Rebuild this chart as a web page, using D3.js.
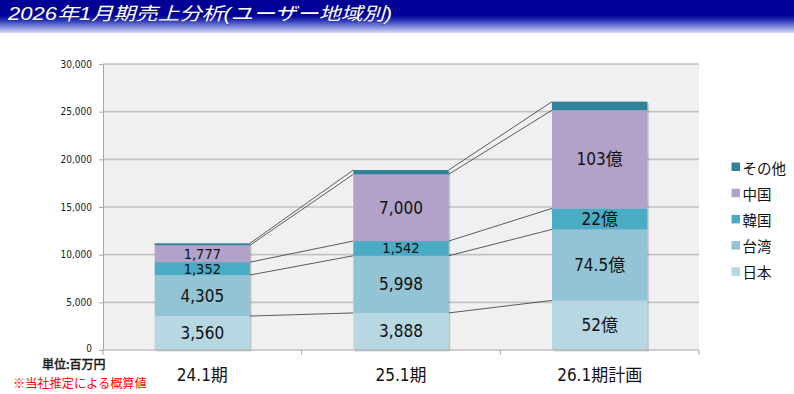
<!DOCTYPE html>
<html><head><meta charset="utf-8">
<script src="https://cdn.jsdelivr.net/npm/d3@7"></script>
<style>
html,body{margin:0;padding:0;background:#fff;}
svg{display:block;}
</style></head>
<body>
<svg id="chart" width="794" height="394"></svg>
<script>
// ---- data ----
const titleText = "2026年1月期売上分析(ユーザー地域別)";
const categories = ["24.1期", "25.1期", "26.1期計画"];
const seriesNames = ["日本", "台湾", "韓国", "中国", "その他"];
const japan  = [3560, 3888, 5200];
const taiwan = [4305, 5998, 7450];
const korea  = [1352, 1542, 2200];
const china  = [1777, 7000, 10300];
const other  = [200, 450, 900];
const japanLabels  = ["3,560", "3,888", "52億"];
const taiwanLabels = ["4,305", "5,998", "74.5億"];
const koreaLabels  = ["1,352", "1,542", "22億"];
const chinaLabels  = ["1,777", "7,000", "103億"];
const otherLabels  = ["", "", ""];
const yTicks = [0, 5000, 10000, 15000, 20000, 25000, 30000];
const unitText = "単位:百万円";
const noteText = "※当社推定による概算値";
const colors = ["#b7d7e3", "#93c4d6", "#4aabc5", "#b2a1c8", "#31839a"];

const seriesValues = [japan, taiwan, korea, china, other];
const seriesLabels = [japanLabels, taiwanLabels, koreaLabels, chinaLabels, otherLabels];

const svg = d3.select("#chart");
const defs = svg.append("defs");

// ---- title banner ----
const g1 = defs.append("linearGradient").attr("id","bannerGrad").attr("x1",0).attr("y1",0).attr("x2",0).attr("y2",1);
g1.append("stop").attr("offset","0%").attr("stop-color","#000096");
g1.append("stop").attr("offset","47%").attr("stop-color","#000098");
g1.append("stop").attr("offset","62%").attr("stop-color","#2a36b8");
g1.append("stop").attr("offset","100%").attr("stop-color","#d4dcfa");
svg.append("rect").attr("x",0).attr("y",0).attr("width",794).attr("height",33).attr("fill","url(#bannerGrad)");
svg.append("text")
  .attr("x", 8).attr("y", 20)
  .attr("font-family","'Liberation Sans','Noto Sans CJK JP',sans-serif")
  .attr("font-size", 18).attr("font-style","italic")
  .attr("fill","#ffffff")
  .attr("textLength", 384).attr("lengthAdjust","spacingAndGlyphs")
  .style("paint-order","stroke").attr("stroke","#1a1a60").attr("stroke-width",0.5)
  .text(titleText);

// ---- scales ----
const plotL = 103, plotR = 699, plotT = 64, plotB = 350;
const x = d3.scaleBand().domain(categories).range([plotL, plotR]).paddingInner(0.52).paddingOuter(0.26);
const y = d3.scaleLinear().domain([0, 30000]).range([plotB, plotT]);

// plot background
svg.append("rect").attr("x",plotL).attr("y",plotT).attr("width",plotR-plotL).attr("height",plotB-plotT).attr("fill","#f0f0f0");

// grid
svg.append("g").selectAll("line").data(yTicks.filter(d=>d>0)).join("line")
  .attr("x1", plotL).attr("x2", plotR)
  .attr("y1", d=>y(d)).attr("y2", d=>y(d))
  .attr("stroke","#c3c3c3").attr("stroke-width",1.6);

// y axis
const yAxis = svg.append("g").attr("transform",`translate(${plotL},0)`)
  .call(d3.axisLeft(y).tickValues(yTicks).tickFormat(d3.format(",")).tickSize(4).tickSizeOuter(0).tickPadding(7));
yAxis.select(".domain").attr("stroke","#a6a6a6");
yAxis.selectAll(".tick line").attr("stroke","#a6a6a6");
yAxis.selectAll("text").attr("font-family","'DejaVu Sans Condensed','DejaVu Sans',sans-serif").attr("font-size",10).attr("fill","#1a1a1a");
yAxis.selectAll(".tick").filter(d=>d===0).select("text").attr("dy","0.1em");

// stack
const table = categories.map((c,i)=>{
  const o = {cat:c};
  seriesNames.forEach((s,k)=>o[s]=seriesValues[k][i]);
  return o;
});
const stacked = d3.stack().keys(seriesNames)(table);

// connector lines
const conn = svg.append("g");
stacked.forEach(layer=>{
  for(let i=0;i<categories.length-1;i++){
    conn.append("line")
      .attr("x1", x(categories[i]) + x.bandwidth())
      .attr("y1", y(layer[i][1]))
      .attr("x2", x(categories[i+1]))
      .attr("y2", y(layer[i+1][1]))
      .attr("stroke","#4a4a4a").attr("stroke-width",0.9);
  }
});

// bar shadows
const totals = categories.map((c,i)=>d3.sum(seriesValues,v=>v[i]));
svg.append("g").selectAll("rect").data(categories).join("rect")
  .attr("x", d=>x(d)+1.5).attr("y", (d,i)=>y(totals[i])+1.5)
  .attr("width", x.bandwidth()).attr("height", (d,i)=>y(0)-y(totals[i]))
  .attr("fill","#000").attr("opacity",0.18);

// bars
const barG = svg.append("g");
stacked.forEach((layer,k)=>{
  barG.append("g").selectAll("rect").data(layer).join("rect")
    .attr("x",(d,i)=>x(categories[i]))
    .attr("y",d=>y(d[1]))
    .attr("width",x.bandwidth())
    .attr("height",d=>y(d[0])-y(d[1]))
    .attr("fill",colors[k]);
});

// x axis line and boundary ticks
svg.append("line").attr("x1",plotL).attr("x2",plotR).attr("y1",plotB).attr("y2",plotB).attr("stroke","#a6a6a6");
const bounds = [plotL].concat(categories.map(c=>x(c)+x.bandwidth()+x.step()*x.paddingInner()/2).slice(0,-1)).concat([plotR]);
svg.append("g").selectAll("line").data(bounds).join("line")
  .attr("x1",d=>d).attr("x2",d=>d).attr("y1",plotB).attr("y2",plotB+5).attr("stroke","#a6a6a6");

// bar labels
const lblG = svg.append("g");
stacked.forEach((layer,k)=>{
  layer.forEach((d,i)=>{
    const t = seriesLabels[k][i];
    if(!t) return;
    const h = y(d[0]) - y(d[1]);
    lblG.append("text")
      .attr("x", x(categories[i]) + x.bandwidth()/2)
      .attr("y", (y(d[0]) + y(d[1]))/2)
      .attr("text-anchor","middle").attr("dominant-baseline","central")
      .attr("font-family","'DejaVu Sans Condensed','DejaVu Sans','Noto Sans CJK JP',sans-serif")
      .attr("font-size", h < 20 ? 14.5 : 17)
      .attr("fill","#111")
      .text(t);
  });
});

// x axis labels
const xAxis = svg.append("g").attr("transform",`translate(0,${plotB})`)
  .call(d3.axisBottom(x).tickSize(0).tickPadding(19));
xAxis.select(".domain").remove();
xAxis.selectAll("text").attr("font-family","'DejaVu Sans Condensed','DejaVu Sans','Noto Sans CJK JP',sans-serif")
  .attr("font-size",17).attr("fill","#111");

// legend
const legendOrder = seriesNames.map((s,k)=>k).reverse();
const leg = svg.append("g");
legendOrder.forEach((k,j)=>{
  const ly = 167 + j*26.2;
  leg.append("rect").attr("x",731.5).attr("y",ly-4.5).attr("width",8.5).attr("height",8.5).attr("fill",colors[k]);
  leg.append("text").attr("x",742.5).attr("y",ly).attr("dominant-baseline","central")
    .attr("font-family","'Noto Sans CJK JP',sans-serif").attr("font-size",14.5).attr("fill","#111")
    .text(seriesNames[k]);
});

// notes
svg.append("text").attr("x",42).attr("y",363.5).attr("dominant-baseline","central")
  .attr("font-family","'Noto Sans CJK JP',sans-serif").attr("font-size",12).attr("font-weight","500").attr("fill","#1a1a1a")
  .style("paint-order","stroke").attr("stroke","#1a1a1a").attr("stroke-width",0.3)
  .text(unitText);
svg.append("text").attr("x",13).attr("y",383).attr("dominant-baseline","central")
  .attr("font-family","'Noto Sans CJK JP',sans-serif").attr("font-size",12.2).attr("fill","#ff0000")
  .text(noteText);
</script>
</body></html>
